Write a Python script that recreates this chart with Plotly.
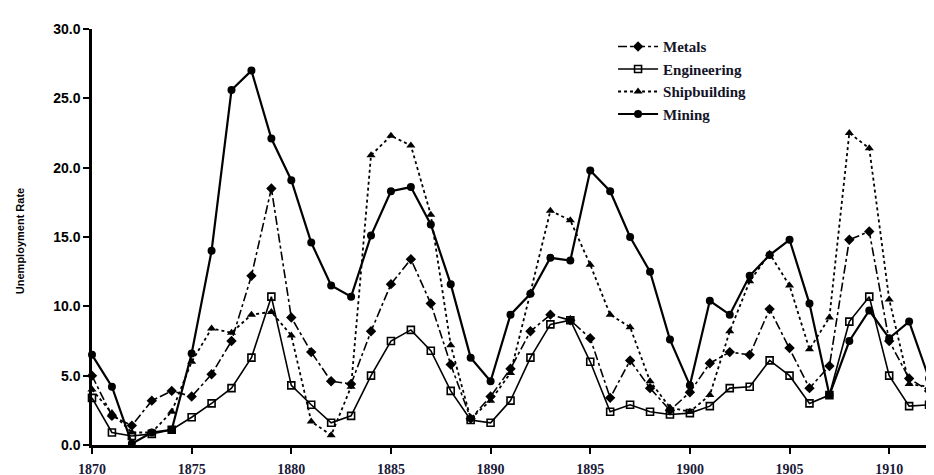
import plotly.graph_objects as go

years = list(range(1870, 1914))

metals = [5.0, 2.1, 1.4, 3.2, 3.9, 3.5, 5.1, 7.5, 12.2, 18.5,
          9.2, 6.7, 4.6, 4.4, 8.2, 11.6, 13.4, 10.2, 5.8, 1.9,
          3.5, 5.5, 8.2, 9.4, 9.0, 7.7, 3.4, 6.1, 4.1, 2.5,
          3.8, 5.9, 6.7, 6.5, 9.8, 7.0, 4.1, 5.7, 14.8, 15.4,
          7.5, 4.8, 3.9, 3.2]

engineering = [3.4, 0.9, 0.65, 0.8, 1.1, 2.0, 3.0, 4.1, 6.3, 10.7,
               4.3, 2.9, 1.6, 2.1, 5.0, 7.5, 8.3, 6.8, 3.9, 1.8,
               1.6, 3.2, 6.3, 8.7, 9.0, 6.0, 2.4, 2.9, 2.4, 2.2,
               2.3, 2.8, 4.1, 4.2, 6.1, 5.0, 3.0, 3.6, 8.9, 10.7,
               5.0, 2.8, 2.9, 1.6]

shipbuilding = [4.0, 2.3, 0.9, 0.9, 2.4, 6.0, 8.4, 8.1, 9.4, 9.6,
                7.9, 1.7, 0.7, 4.2, 20.9, 22.3, 21.6, 16.6, 7.2, 1.9,
                3.2, 5.2, 11.0, 16.9, 16.2, 13.0, 9.4, 8.5, 4.6, 2.7,
                2.4, 3.6, 8.2, 11.8, 13.8, 11.5, 6.9, 9.2, 22.5, 21.4,
                10.5, 4.4, 4.2, 3.6]

mining = [6.5, 4.2, 0.1, 0.9, 1.1, 6.6, 14.0, 25.6, 27.0, 22.1,
          19.1, 14.6, 11.5, 10.7, 15.1, 18.3, 18.6, 15.9, 11.6, 6.3,
          4.6, 9.4, 10.9, 13.5, 13.3, 19.8, 18.3, 15.0, 12.5, 7.6,
          4.3, 10.4, 9.4, 12.2, 13.7, 14.8, 10.2, 3.6, 7.5, 9.7,
          7.7, 8.9, 4.8, 4.8]

x_ticks = [1870, 1875, 1880, 1885, 1890, 1895, 1900, 1905, 1910]
y_ticks = [0, 5, 10, 15, 20, 25, 30]
y_ticktext = ["0.0", "5.0", "10.0", "15.0", "20.0", "25.0", "30.0"]

fig = go.Figure()

fig.add_trace(go.Scatter(
    x=years, y=metals, name="Metals", mode="lines+markers",
    line=dict(color="black", width=1.6, dash="dashdot"),
    marker=dict(symbol="diamond", size=8, color="black"),
    cliponaxis=False,
))
fig.add_trace(go.Scatter(
    x=years, y=engineering, name="Engineering", mode="lines+markers",
    line=dict(color="black", width=1.6),
    marker=dict(symbol="square-open", size=7, color="black", line=dict(width=1.6)),
    cliponaxis=False,
))
fig.add_trace(go.Scatter(
    x=years, y=shipbuilding, name="Shipbuilding", mode="lines+markers",
    line=dict(color="black", width=1.8, dash="dot"),
    marker=dict(symbol="triangle-up", size=8, color="black"),
    cliponaxis=False,
))
fig.add_trace(go.Scatter(
    x=years, y=mining, name="Mining", mode="lines+markers",
    line=dict(color="black", width=2.2),
    marker=dict(symbol="circle", size=8, color="black"),
    cliponaxis=False,
))

fig.update_layout(
    width=934, height=475,
    margin=dict(l=84, r=0, t=21, b=38),
    paper_bgcolor="white", plot_bgcolor="white",
    showlegend=True,
    legend=dict(
        x=0.613, y=0.997, xanchor="left", yanchor="top",
        bgcolor="rgba(0,0,0,0)",
        font=dict(family="Liberation Serif", size=15, color="#141428", weight="bold"),
        itemwidth=40, tracegroupgap=0,
    ),
    xaxis=dict(
        range=[1870, 1912.65],
        tickvals=x_ticks,
        showgrid=False, zeroline=False,
        showline=True, linecolor="black", linewidth=2.5,
        ticks="outside", ticklen=6, tickwidth=2, tickcolor="black",
        ticklabelstandoff=3,
        tickfont=dict(family="Liberation Serif", size=14, color="#1a1a3a", weight="bold"),
    ),
    yaxis=dict(
        range=[0, 30],
        tickvals=y_ticks, ticktext=y_ticktext,
        showgrid=False, zeroline=False,
        showline=True, linecolor="black", linewidth=2.5,
        ticks="outside", ticklen=6, tickwidth=2, tickcolor="black",
        tickfont=dict(family="Liberation Sans", size=14, color="black", weight="bold"),
    ),
    annotations=[dict(
        text="Unemployment Rate", textangle=-90,
        xref="paper", yref="paper", x=(12 - 84) / 850, y=0.49,
        xanchor="center", yanchor="middle", showarrow=False,
        font=dict(family="Liberation Sans Narrow, Liberation Sans", size=11, color="black", weight="bold"),
    )],
)

fig.write_html("out.html")
